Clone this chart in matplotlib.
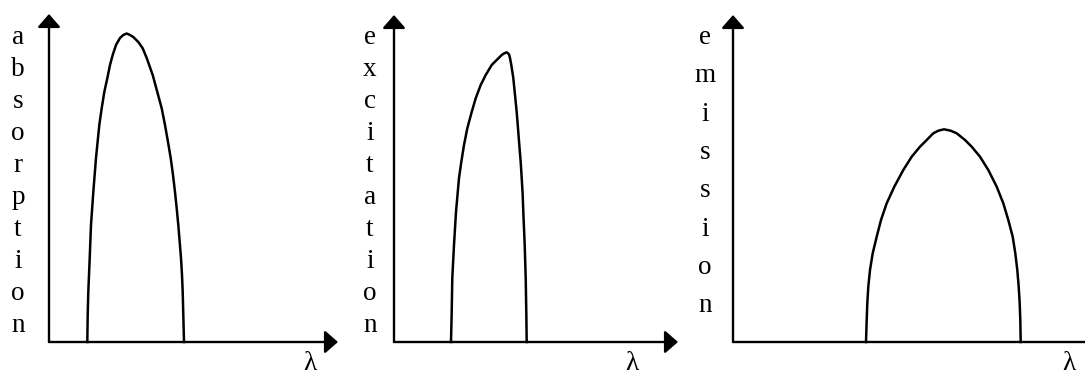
import matplotlib.pyplot as plt

# figure size in pixels
W, H = 1085, 374

# axis words, written one letter per line
labels = ['absorption', 'excitation', 'emission']

# curves (x = wavelength, y = intensity, px from the axes origin)
absorption_x = [38.3, 38.7, 39.3, 40.7, 42, 44.3, 47, 50.3, 52.7, 55.3, 58.3, 61, 63.7,
                67, 71, 74.3, 77.7, 81, 84.3, 89.3, 93.7, 97.7, 103.7, 108.3, 112.7,
                116, 119, 121.7, 124, 126, 127.7, 129.3, 130.7, 132, 133, 133.7, 134.3, 135]
absorption_y = [0, 27, 50, 83.7, 117, 150, 184, 217, 233.7, 250, 263.7, 277, 287,
                297, 304, 307, 308.5, 307, 305, 300, 293.7, 284, 267, 250, 233.7,
                217, 200, 184, 167, 150, 133.7, 117, 100, 84, 67, 50, 27, 0]

excitation_x = [57, 57.7, 58.3, 60, 62, 65, 67.3, 70, 73.3, 77.7, 81.7, 86.7, 91.7,
                97.7, 102.7, 107.7, 110.3, 112.7, 115, 116, 117.3, 119.3, 121, 122.7,
                124, 125.3, 126.7, 127.7, 128.7, 129.3, 130.7, 131.7, 132.3, 132.7]
excitation_y = [0, 30, 64, 97, 130, 164, 180, 197, 213.7, 230, 243.7, 257, 267,
                277, 282, 287, 288.7, 289.7, 287.7, 284, 277, 264, 247, 230,
                213.7, 197, 180, 164, 147, 130, 97, 64, 30, 0]

emission_x = [133, 133.7, 134.3, 135.3, 137, 139.7, 143.7, 148, 153.7, 161.3, 170.3,
              178.7, 187, 193.7, 200.3, 205.3, 211, 217.7, 223.7, 232, 238.7, 247,
              255.3, 263.7, 270.3, 275.3, 279.7, 282.3, 284.3, 285.7, 286.7, 287.3, 287.7]
emission_y = [0, 22, 38.7, 55.3, 72, 88.7, 105.3, 122, 138.7, 155.3, 172,
              185.3, 195.3, 202, 208.7, 211.3, 212.7, 211.3, 208.7, 202, 195.3, 185.3,
              172, 155.3, 138.7, 122, 105.3, 88.7, 72, 55.3, 38.7, 22, 0]

curves = [(absorption_x, absorption_y), (excitation_x, excitation_y), (emission_x, emission_y)]

# layout of each panel in pixels: origin, axis lengths, letter column, letter step, lambda position
panels = [
    dict(ox=49, oy=342, xlen=289, ylen=328, lx=18, step=32.0, lam=310),
    dict(ox=394, oy=342, xlen=284, ylen=327, lx=370, step=32.0, lam=632),
    dict(ox=733, oy=342, xlen=370, ylen=327, lx=705, step=38.3, lam=1069),
]

fig = plt.figure(figsize=(W / 100, H / 100), dpi=100)
font = dict(family=['Liberation Serif', 'DejaVu Serif'], size=19.5, color='black')
arrow = dict(arrowstyle='-|>,head_length=0.8,head_width=0.7', color='black',
             lw=1.7, shrinkA=0, shrinkB=0, mutation_scale=10)

for p, word, (cx, cy) in zip(panels, labels, curves):
    ax = fig.add_axes([p['ox'] / W, (H - p['oy']) / H, p['xlen'] / W, p['ylen'] / H])
    ax.set_xlim(0, p['xlen'])
    ax.set_ylim(0, p['ylen'])
    ax.axis('off')

    # axes with arrow heads
    ax.annotate('', xy=(p['xlen'], 0), xytext=(0, 0), arrowprops=arrow, annotation_clip=False)
    ax.annotate('', xy=(0, p['ylen']), xytext=(0, 0), arrowprops=arrow, annotation_clip=False)

    # spectrum
    ax.plot(cx, cy, color='black', lw=1.8, solid_joinstyle='round', clip_on=False)

    # vertical label, one letter per line
    for i, ch in enumerate(word):
        ax.text(p['lx'] - p['ox'], p['oy'] - (44 + i * p['step']), ch, ha='center',
                va='baseline', clip_on=False, **font)

    ax.text(p['lam'] - p['ox'], p['oy'] - 370, 'λ', ha='center', va='baseline',
            clip_on=False, **font)

fig.savefig('out.png', dpi=100)
